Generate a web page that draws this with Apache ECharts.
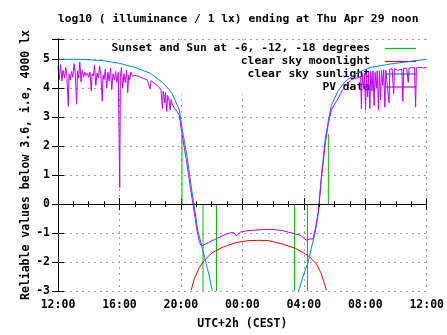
<!DOCTYPE html>
<html><head><meta charset="utf-8">
<script src="https://cdn.jsdelivr.net/npm/echarts@6/dist/echarts.min.js"></script>
<style>html,body{margin:0;padding:0;background:#fff}#c{width:447px;height:335px}</style>
</head><body><div id="c"></div>
<script>
// hours after 12:00 (Apr 28) -> log10 illuminance
const xTickLabels = ['12:00','16:00','20:00','00:00','04:00','08:00','12:00'];
const legendNames = ['Sunset and Sun at -6, -12, -18 degrees','clear sky moonlight','clear sky sunlight','PV data'];
const sunEventTime = [8.07, 9.44, 10.32, 15.40, 16.24, 17.60];
const sunEventTop = [2.32, 0, 0, 0, 0, 2.42];
const sunEventBottom = [0, -3, -3, -3, -3, 0];
const moonlight = [[8.67,-2.97],[8.86,-2.6],[9.19,-2.2],[9.51,-1.95],[10.03,-1.68],[10.67,-1.5],[11.58,-1.33],[12.42,-1.26],[13.07,-1.25],[13.71,-1.26],[14.56,-1.37],[15.46,-1.53],[15.98,-1.68],[16.37,-1.82],[16.82,-2.06],[17.14,-2.4],[17.47,-2.97]];
const sunlightEvening = [[0,5.0],[1.5,5.0],[3.0,4.95],[4.0,4.86],[5.0,4.72],[6.0,4.52],[6.8,4.2],[7.4,3.85],[7.9,3.25],[8.1,2.55],[8.4,1.65],[8.7,0.5],[8.9,-0.2],[9.1,-0.9],[9.4,-1.55],[9.65,-2.05],[9.85,-2.5],[10.05,-3.0]];
const sunlightMorning = [[15.66,-3.0],[15.98,-2.45],[16.3,-1.98],[16.5,-1.5],[16.75,-0.96],[16.95,-0.3],[17.14,0.95],[17.4,2.25],[17.6,2.88],[17.79,3.4],[18.24,3.92],[18.7,4.24],[19.54,4.55],[20.38,4.72],[21.67,4.84],[22.97,4.93],[24,5.0]];
const pvData = [
[0.00,4.75],[0.08,4.30],[0.17,4.82],[0.25,4.25],[0.33,4.62],[0.42,4.35],[0.50,4.72],[0.58,4.40],[0.67,3.38],[0.72,4.50],[0.80,4.28],[0.88,4.58],[0.96,4.38],[1.05,4.85],[1.13,4.45],[1.21,3.45],[1.27,4.60],[1.35,4.35],[1.42,4.90],[1.50,4.22],[1.58,4.62],[1.67,4.40],[1.75,4.55],[1.83,4.44],[1.92,4.52],[2.00,4.38],[2.08,4.56],[2.17,3.90],[2.22,4.50],[2.30,4.42],[2.38,4.80],[2.46,4.10],[2.54,4.52],[2.63,4.35],[2.71,4.76],[2.79,4.45],[2.88,3.55],[2.93,4.45],[3.00,4.30],[3.08,4.66],[3.17,4.00],[3.25,4.55],[3.33,4.25],[3.42,4.70],[3.50,3.95],[3.58,4.50],[3.67,4.30],[3.75,4.58],[3.83,4.20],[3.92,4.55],[3.98,4.60],[4.02,0.57],[4.06,4.40],[4.13,4.72],[4.21,4.00],[4.29,4.50],[4.38,4.20],[4.46,4.62],[4.54,3.85],[4.60,4.45],[4.67,4.30],[4.75,4.56],[4.83,4.42],[4.92,4.48],[5.00,4.44],[5.2,4.42],[5.4,4.38],[5.5,4.41],[5.6,4.33],[5.7,4.36],[5.8,4.30],[5.9,4.28],[6.0,3.97],[6.05,4.26],[6.2,4.20],[6.4,4.12],[6.55,4.05],[6.7,3.95],[6.8,3.30],[6.85,3.90],[6.95,3.50],[7.00,3.85],[7.08,3.20],[7.13,3.75],[7.22,3.60],[7.30,3.25],[7.36,3.62],[7.45,3.42],[7.6,3.30],[7.75,3.20],[7.9,3.05],[8.05,2.50],[8.2,2.00],[8.35,1.55],[8.5,1.00],[8.62,0.55],[8.75,0.12],[8.86,-0.25],[9.0,-0.75],[9.1,-1.05],[9.2,-1.30],[9.3,-1.42],[9.45,-1.42],[9.6,-1.38],[9.8,-1.33],[10.0,-1.27],[10.3,-1.20],[10.6,-1.12],[11.0,-1.03],[11.3,-0.98],[11.5,-1.00],[11.6,-1.10],[11.7,-1.04],[11.9,-0.96],[12.3,-0.92],[12.8,-0.90],[13.3,-0.88],[13.8,-0.87],[14.2,-0.89],[14.6,-0.91],[15.0,-0.97],[15.4,-1.02],[15.8,-1.08],[16.05,-1.20],[16.2,-1.25],[16.4,-1.20],[16.6,-1.20],[16.75,-0.85],[16.95,-0.25],[17.14,0.85],[17.4,2.10],[17.6,2.78],[17.8,3.25],[18.0,3.45],[18.24,3.65],[18.5,3.92],[18.7,4.08],[19.08,4.30],[19.5,4.36],[19.7,4.40],
[19.75,3.30],[19.8,4.48],[19.88,4.00],[19.95,4.52],[20.02,3.25],[20.08,4.50],[20.16,3.70],[20.22,4.55],[20.3,3.30],[20.36,4.58],[20.44,3.90],[20.5,4.60],[20.58,3.40],[20.64,4.55],[20.72,4.00],[20.78,4.60],[20.86,3.25],[20.92,4.60],[21.0,3.60],[21.06,4.62],[21.14,4.10],[21.2,4.64],[21.28,3.35],[21.34,4.62],[21.45,4.65],[21.55,3.50],[21.6,4.66],[21.75,4.67],[21.85,3.80],[21.9,4.68],[22.1,4.62],[22.2,4.68],[22.38,4.66],[22.45,3.55],[22.5,4.70],[22.7,4.68],[22.8,4.20],[22.85,4.70],[23.0,4.70],[23.2,4.72],[23.28,3.35],[23.33,4.70],[23.6,4.72],[23.8,4.70],[24.0,4.72]
];

const FONT = 'DejaVu Sans Mono';
const txt = {fontFamily: FONT, fontWeight: 'bold', fontSize: 11.5, color: '#000'};
const GREEN = '#00c000', RED = '#ff0000', BLUE = '#0080ff', PURPLE = '#c000ff';
const rowTops = [43, 56, 68.5, 81.5];

const chart = echarts.init(document.getElementById('c'), null, {renderer: 'canvas'});
const gridLine = {show: true, lineStyle: {color: '#a0a0a0', type: [2, 4], width: 1}};
const axLine = {show: true, lineStyle: {color: '#000', width: 1}};

const series = [];
sunEventTime.forEach((t, i) => {
  series.push({type: 'line', name: legendNames[0], data: [[t, sunEventTop[i]], [t, sunEventBottom[i]]],
    symbol: 'none', lineStyle: {color: GREEN, width: 1}, itemStyle: {color: GREEN}, z: 5, silent: true});
});
series.push({type: 'line', name: legendNames[1], data: moonlight, symbol: 'none', lineStyle: {color: RED, width: 1}, itemStyle: {color: RED}, z: 5});
series.push({type: 'line', name: legendNames[2], data: sunlightEvening, symbol: 'none', lineStyle: {color: BLUE, width: 1}, itemStyle: {color: BLUE}, z: 5});
series.push({type: 'line', name: legendNames[2], data: sunlightMorning, symbol: 'none', lineStyle: {color: BLUE, width: 1}, itemStyle: {color: BLUE}, z: 5});
series.push({type: 'line', name: legendNames[3], data: pvData, symbol: 'none', lineStyle: {color: PURPLE, width: 1}, itemStyle: {color: PURPLE}, z: 5});

chart.setOption({
  animation: false,
  backgroundColor: '#fff',
  title: {text: 'log10 ( illuminance / 1 lx) ending at Thu Apr 29 noon', left: 53, top: 9,
    textStyle: {fontFamily: FONT, fontWeight: 'bold', fontSize: 11.3, color: '#000'}},
  grid: {left: 58, right: 18, top: 39, bottom: 42},
  graphic: [{type: 'rect', shape: {x: 102, y: 40, width: 326, height: 54}, style: {fill: '#fff'}, z: 3, silent: true}],
  legend: legendNames.map((n, i) => ({
    data: [{name: n, icon: 'path://M0,0L31,0L31,1.2L0,1.2Z'}], right: 31, top: rowTops[i], orient: 'horizontal', align: 'right', padding: 0,
    itemWidth: 31, itemHeight: 12, selectedMode: false, z: 4,
    textStyle: Object.assign({}, txt, {fontSize: 11.3, padding: [0, 10, 0, 0]})
  })),
  xAxis: [{
    type: 'value', min: 0, max: 24, interval: 4,
    axisLine: axLine,
    axisTick: {show: true, inside: true, length: 6, lineStyle: {color: '#000'}},
    minorTick: {show: true, splitNumber: 4, length: 3, lineStyle: {color: '#000'}},
    axisLabel: Object.assign({}, txt, {margin: 8, formatter: v => xTickLabels[Math.round(v / 4)]}),
    splitLine: gridLine,
    name: 'UTC+2h (CEST)', nameLocation: 'middle', nameGap: 27, nameMoveOverlap: false, nameTextStyle: txt
  }, {
    type: 'value', min: 0, max: 24, interval: 4, position: 'top', z: 6,
    axisLine: axLine,
    axisTick: {show: true, inside: true, length: 6, lineStyle: {color: '#000'}},
    minorTick: {show: true, splitNumber: 4, length: 3, lineStyle: {color: '#000'}},
    axisLabel: {show: false}, splitLine: {show: false}
  }],
  yAxis: [{
    type: 'value', min: -3, max: 5.7, interval: 1,
    axisLine: axLine,
    axisTick: {show: true, inside: true, length: 6, lineStyle: {color: '#000'}},
    axisLabel: Object.assign({}, txt, {margin: 8, formatter: v => Number.isInteger(v) ? String(v) : ''}),
    splitLine: gridLine,
    name: 'Reliable values below 3.6, i.e, 4000 lx', nameLocation: 'middle', nameGap: 26, nameMoveOverlap: false, nameTextStyle: txt
  }, {
    type: 'value', min: -3, max: 5.7, interval: 1, position: 'right', z: 6,
    axisLine: axLine,
    axisTick: {show: true, inside: true, length: 6, lineStyle: {color: '#000'}},
    axisLabel: {show: false}, splitLine: {show: false}
  }],
  series: series
});
</script></body></html>
